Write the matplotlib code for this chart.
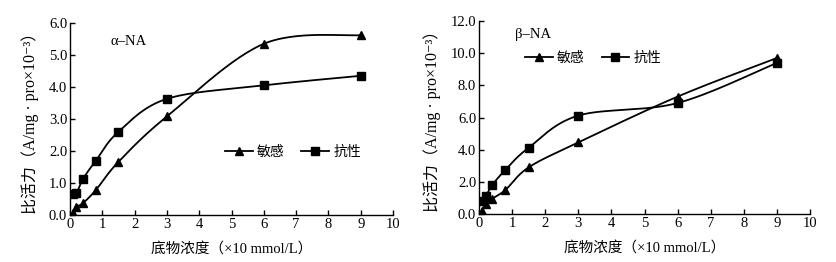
import numpy as np
import matplotlib
matplotlib.use("Agg")
import matplotlib.pyplot as plt

plt.rcParams['font.family'] = ['Liberation Serif', 'Noto Sans CJK SC', 'DejaVu Sans']

# ---- data ----
conc = [0.1, 0.2, 0.4, 0.8, 1.5, 3, 6, 9]
alpha_sens = [0.05, 0.25, 0.37, 0.78, 1.66, 3.08, 5.35, 5.62]
alpha_res = [0.65, 0.68, 1.12, 1.70, 2.60, 3.63, 4.05, 4.35]
beta_sens = [0.2, 0.6, 0.95, 1.5, 2.9, 4.45, 7.3, 9.7]
beta_res = [0.8, 1.1, 1.8, 2.75, 4.12, 6.12, 6.9, 9.4]
labels = ['敏感', '抗性']
xticks = list(range(0, 11))

fig = plt.figure(figsize=(8.36, 2.62), dpi=100)
W, H = 836, 262
ax1 = fig.add_axes([70 / W, 1 - 215 / H, 323 / W, 192 / H])
ax2 = fig.add_axes([479 / W, 1 - 214 / H, 331 / W, 193 / H])


def smooth(ax, x, y, n=30):
    """Excel-style smoothed line computed in display space."""
    pts = ax.transData.transform(np.column_stack([x, y]))
    P = np.vstack([pts[0], pts, pts[-1]])
    out = []
    for i in range(1, len(P) - 2):
        p0, p1, p2, p3 = P[i - 1], P[i], P[i + 1], P[i + 2]
        c1 = p1 + (p2 - p0) / 6
        c2 = p2 - (p3 - p1) / 6
        t = np.linspace(0, 1, n)[:, None]
        seg = ((1 - t) ** 3) * p1 + 3 * ((1 - t) ** 2) * t * c1 + 3 * (1 - t) * t ** 2 * c2 + t ** 3 * p2
        out.append(seg if i == 1 else seg[1:])
    out = np.vstack(out)
    return ax.transData.inverted().transform(out)


def setup(ax, ymax, ystep, ylab_x):
    ax.set_xlim(0, 10)
    ax.set_ylim(0, ymax)
    ax.set_xticks(xticks)
    yt = np.arange(0, ymax + 0.001, ystep)
    ax.set_yticks(yt)
    ax.set_yticklabels([f'{v:.1f}' for v in yt])
    for s in ['top', 'right']:
        ax.spines[s].set_visible(False)
    for s in ['left', 'bottom']:
        ax.spines[s].set_linewidth(1.0)
    ax.tick_params(direction='in', length=3.5, width=1.0, labelsize=10.5, pad=2)
    ax.set_xlabel('底物浓度（×10 mmol/L）', fontsize=10.5)
    ax.xaxis.set_label_coords(0.5, -0.14)
    ax.set_ylabel('比活力（A/mg · pro×10⁻³）', fontsize=11.5)
    ax.yaxis.set_label_coords(ylab_x, 0.5)


setup(ax1, 6.0, 1.0, -0.095)
setup(ax2, 12.0, 2.0, -0.115)

for ax, sens, res in [(ax1, alpha_sens, alpha_res), (ax2, beta_sens, beta_res)]:
    for yv, mk, ms, lab in [(sens, '^', 5.5, labels[0]), (res, 's', 6, labels[1])]:
        c = smooth(ax, conc, yv)
        ax.plot(c[:, 0], c[:, 1], color='black', lw=1.3)
        ax.plot(conc, yv, linestyle='none', marker=mk, ms=ms, color='black')
        ax.plot([], [], color='black', lw=1.3, marker=mk, ms=ms, label=lab)

leg_kw = dict(ncol=2, frameon=False, handlelength=2.0, handletextpad=0.3,
              columnspacing=1.2, prop={'family': ['Noto Sans CJK SC'], 'size': 10})
ax1.legend(loc='center', bbox_to_anchor=(0.69, 0.33), **leg_kw)
ax2.legend(loc='center', bbox_to_anchor=(0.345, 0.81), **leg_kw)

ax1.text(0.125, 0.905, 'α–NA', transform=ax1.transAxes, fontsize=10.5, ha='left', va='center')
ax2.text(0.11, 0.93, 'β–NA', transform=ax2.transAxes, fontsize=10.5, ha='left', va='center')

fig.savefig('out.png', dpi=100)
